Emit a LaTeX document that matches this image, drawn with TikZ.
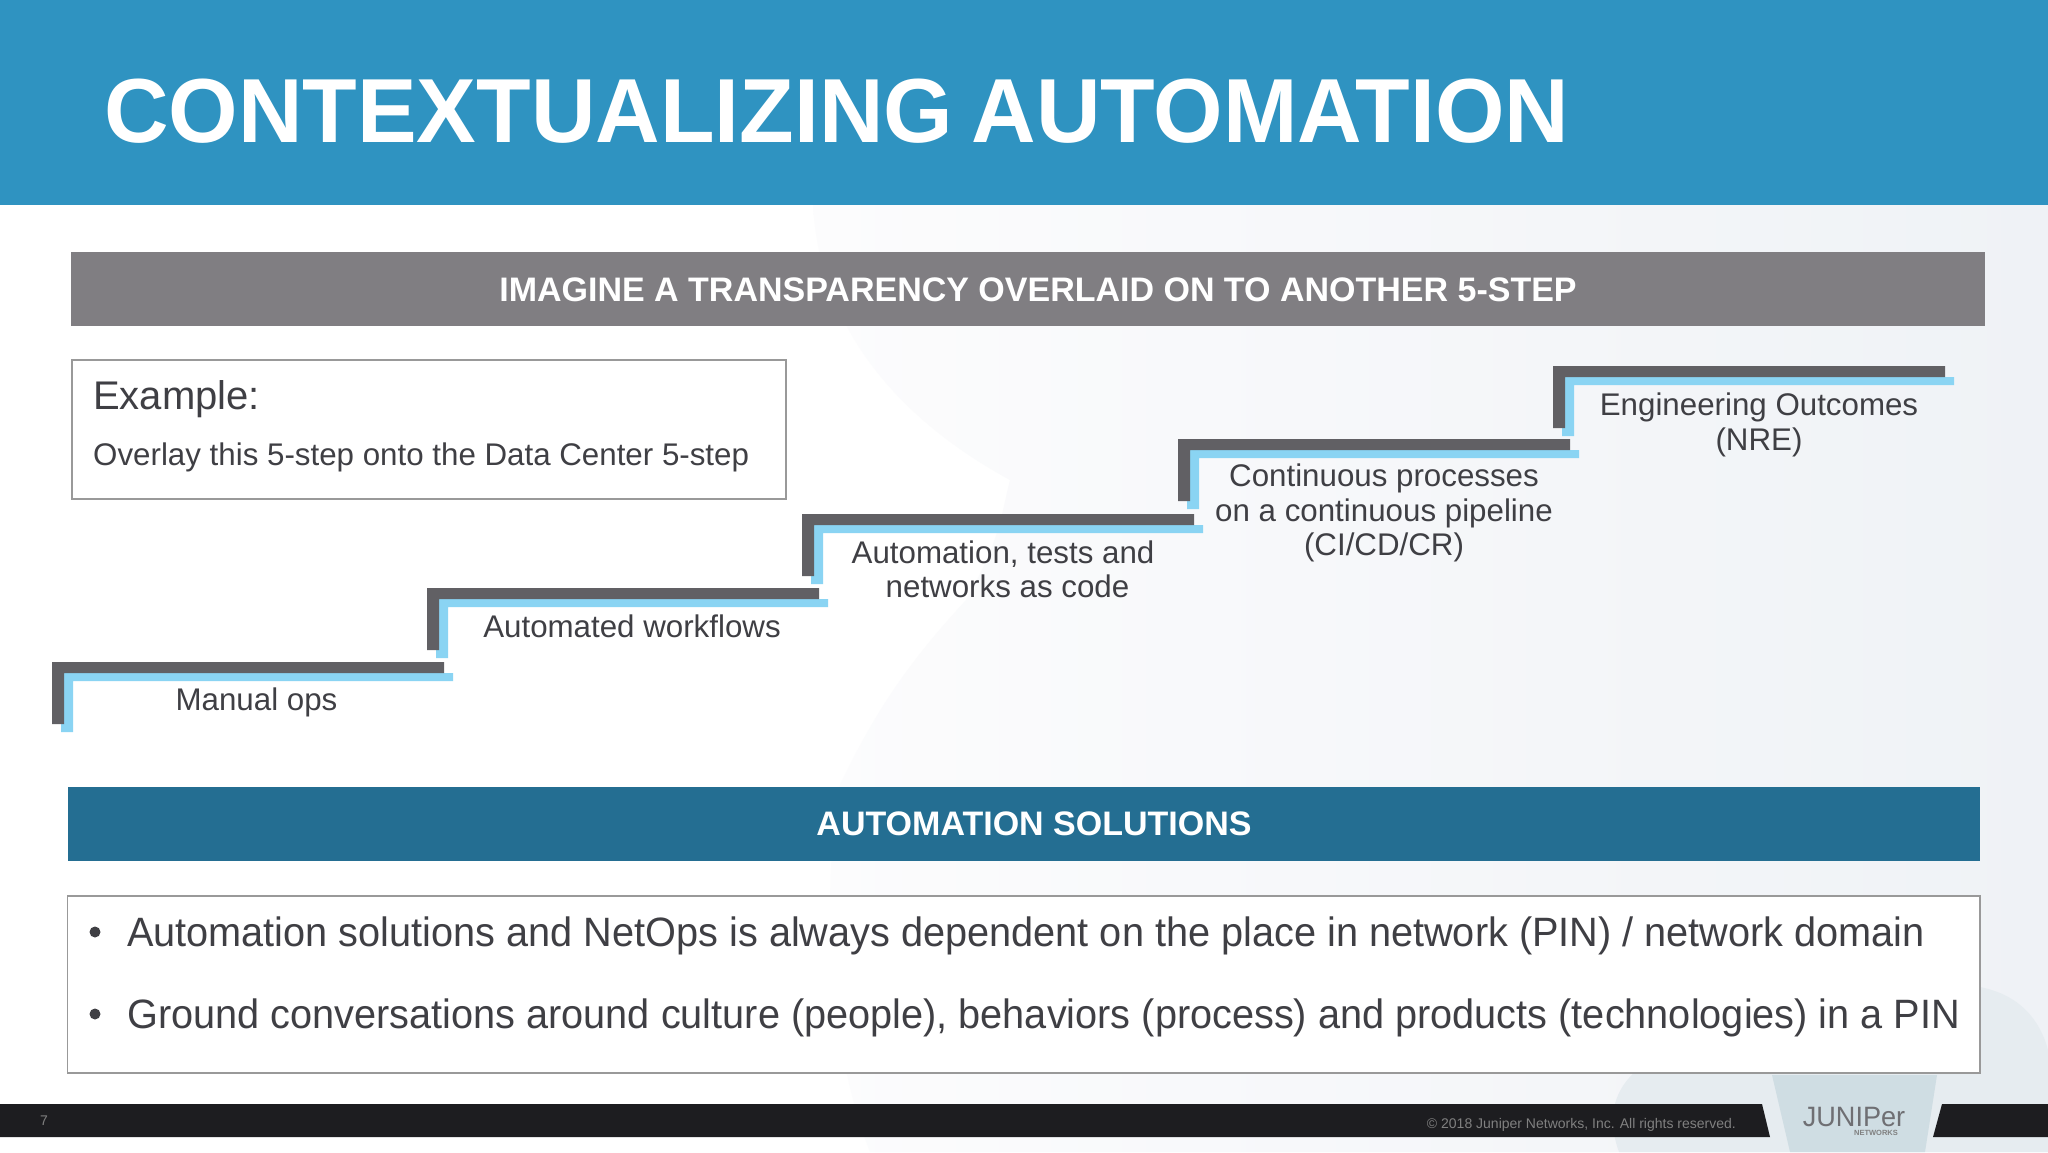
\documentclass[tikz,border=0pt]{standalone}
\usepackage{fontspec}
\setmainfont{Liberation Sans}
\newfontfamily\titlefont[FakeStretch=0.982,WordSpace=0.75]{Liberation Sans Bold}
\newfontfamily\narrowfont[FakeStretch=0.968]{Liberation Sans}
\definecolor{hdrblue}{HTML}{2F93C1}
\definecolor{barteal}{HTML}{246E92}
\definecolor{bargray}{HTML}{807E82}
\definecolor{stepdark}{HTML}{616064}
\definecolor{steplight}{HTML}{8AD4F3}
\definecolor{ink}{HTML}{3F3F44}
\definecolor{foot}{HTML}{1D1D20}
\definecolor{wmL}{HTML}{FCFCFD}
\definecolor{wmR}{HTML}{EFF2F6}
\definecolor{wmB}{HTML}{E6ECF0}
\definecolor{wmC}{HTML}{CFDDE3}
\newcommand{\fs}[1]{\fontsize{#1}{#1}\selectfont}
\tikzset{
  x=1pt,y=-1pt,
  txt/.style={inner sep=0pt,text=ink,align=center,font=\fs{31.3}},
  bartxt/.style={inner sep=0pt,text=white,font=\fs{34}\bfseries},
  boxed/.style={draw=gray!80,line width=1.1pt,fill=white},
  bullettxt/.style={anchor=base west,inner sep=0pt,text=ink,font=\fs{41}\narrowfont},
  stepd/.style={fill=stepdark},
  stepl/.style={fill=steplight},
}
\newcommand{\stair}[2]{%
 \fill[stepl,shift={(#1,#2)}] (9,11) -- (401,11) -- (401,19) -- (21,19) -- (21,70) -- (9,70) -- cycle;
 \fill[stepd,shift={(#1,#2)}] (0,0) -- (392,0) -- (392,11) -- (12,11) -- (12,62) -- (0,62) -- cycle;
}
\begin{document}
\begin{tikzpicture}
\useasboundingbox (0,0) rectangle (2048,1152);
\fill[white] (0,0) rectangle (2048,1152);
% watermark
\shade[left color=wmL,right color=wmR] (813,205) -- (2048,205) -- (2048,1152) -- (870,1152) .. controls (830,1050) and (820,900) .. (840,785) .. controls (880,700) and (920,650) .. (966,600) .. controls (1000,540) and (1000,520) .. (1010,480) .. controls (900,420) and (820,330) .. (813,205) -- cycle;
\fill[wmB] (1619,1152) .. controls (1600,1100) and (1625,1060) .. (1700,1040) -- (1980,1040) -- (1980,987) .. controls (2020,995) and (2040,1020) .. (2048,1050) -- (2048,1152) -- cycle;
\fill[wmC] (1790,1152) -- (1772,1075) -- (1937,1075) -- (1925,1152) -- cycle;
% header
\fill[hdrblue] (0,0) rectangle (2048,204.5);
\node[anchor=base west,inner sep=0pt,text=white,font=\fs{91}\titlefont] (title) at (104,142) {CONTEXTUALIZING AUTOMATION};
% gray bar
\fill[bargray] (71,252) rectangle (1985,326);
\node[bartxt] (bar1) at (1038,290) {IMAGINE A TRANSPARENCY OVERLAID ON TO ANOTHER 5-STEP};
% example
\draw[boxed] (72,360) rectangle (786,499);
\node[anchor=base west,txt,font=\fs{40}] (ex) at (93,409) {Example:};
\node[anchor=base west,txt] (ex2) at (93,465) {Overlay this 5-step onto the Data Center 5-step};
% stairs
\stair{52}{662}
\stair{427}{588}
\stair{802}{514}
\stair{1178}{439}
\stair{1553}{366}
\node[txt] (t1) at (256.5,702) {Manual ops};
\node[txt] (t2) at (632,626) {Automated workflows};
\node[txt] (t3) at (1003,569) {Automation, tests and\\[3pt]\hspace*{9pt}networks as code};
\node[txt] (t4) at (1384,513) {Continuous processes\\[3pt]on a continuous pipeline\\[3pt](CI/CD/CR)};
\node[txt] (t5) at (1759,425) {Engineering Outcomes\\[3pt](NRE)};
% teal bar
\fill[barteal] (67.5,787) rectangle (1980,861);
\node[bartxt] (bar2) at (1034,824) {AUTOMATION SOLUTIONS};
% bullets box
\draw[boxed] (67.5,896) rectangle (1980,1073);
\fill[ink] (95,932) circle (5.5);
\fill[ink] (95,1014) circle (5.5);
\node[bullettxt] (b1) at (127,946) {Automation solutions and NetOps is always dependent on the place in network (PIN) / network domain};
\node[bullettxt] (b2) at (127,1028) {Ground conversations around culture (people), behaviors (process) and products (technologies) in a PIN};
% footer
\fill[foot] (0,1104) -- (1762,1104) -- (1770,1137) -- (0,1137) -- cycle;
\fill[foot] (1942,1104) -- (2048,1104) -- (2048,1137) -- (1933,1137) -- cycle;
\node[inner sep=0pt,text=gray,font=\fs{14}] (pg) at (44,1121) {7};
\node[anchor=base east,inner sep=0pt,text=gray,font=\fs{14}] (copy) at (1736,1128) {© 2018 Juniper Networks, Inc. All rights reserved.};
\node[anchor=base,inner sep=0pt,text=ink!75,font=\fs{28}\narrowfont] (logo) at (1854,1126) {JUNIPer};
\node[inner sep=0pt,text=gray,font=\fs{7.5}\bfseries] (logo2) at (1876,1133) {NETWORKS};
\end{tikzpicture}
\end{document}
